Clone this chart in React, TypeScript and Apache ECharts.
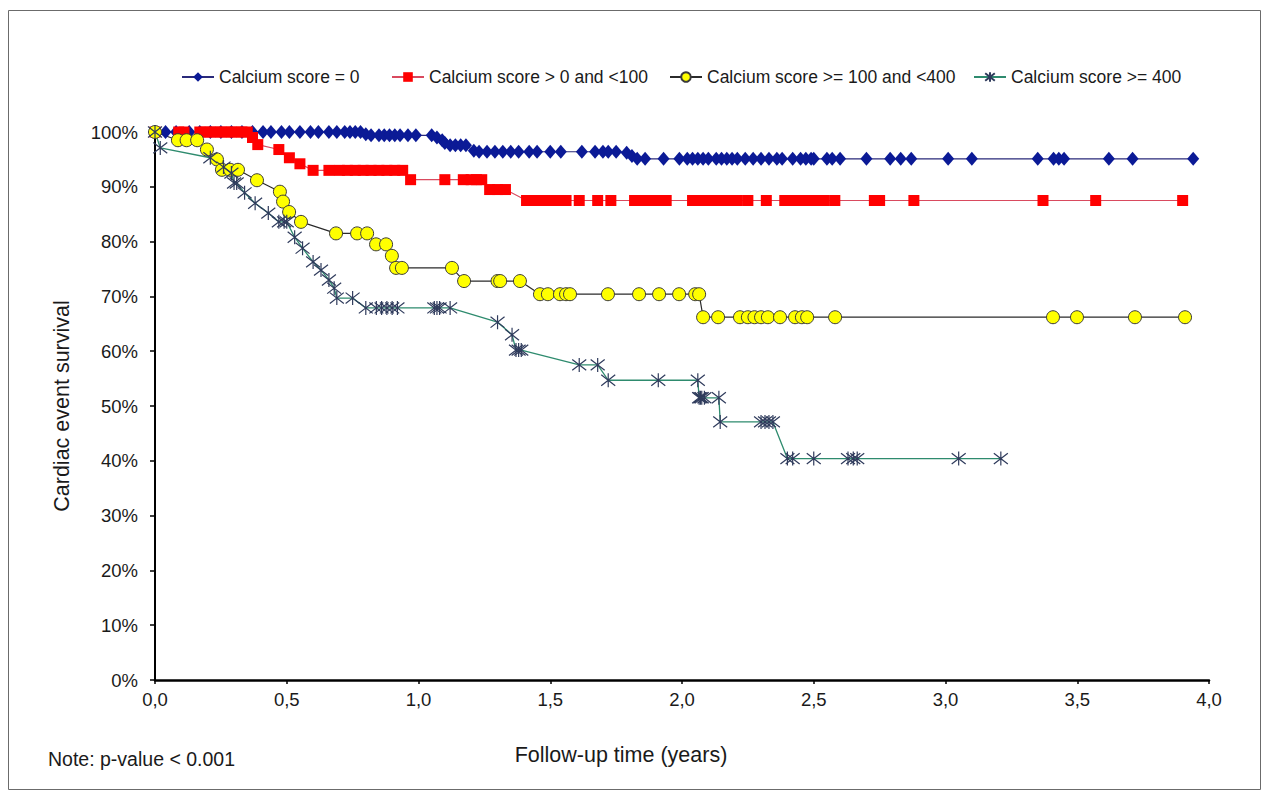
import React, { useEffect, useRef } from "react";
import * as echarts from "echarts";

const seriesNames = [
  "Calcium score = 0",
  "Calcium score > 0 and <100",
  "Calcium score >= 100 and <400",
  "Calcium score >= 400",
];

const xTicks = [0, 0.5, 1, 1.5, 2, 2.5, 3, 3.5, 4];
const yTicks = [0, 10, 20, 30, 40, 50, 60, 70, 80, 90, 100];

const scoreZero: [number, number][] = [
  [0, 100], [0.04, 100], [0.08, 100], [0.13, 100], [0.17, 100], [0.21, 100], [0.25, 100], [0.29, 100],
  [0.33, 100], [0.37, 100], [0.41, 100], [0.44, 100], [0.48, 100], [0.51, 100], [0.55, 100], [0.59, 100],
  [0.62, 100], [0.66, 100], [0.69, 100], [0.72, 100], [0.74, 100], [0.76, 100], [0.78, 100], [0.8, 99.6],
  [0.82, 99.4], [0.85, 99.4], [0.87, 99.4], [0.89, 99.4], [0.91, 99.4], [0.93, 99.4], [0.96, 99.4],
  [0.99, 99.4], [1.05, 99.4], [1.07, 99], [1.09, 98.5], [1.1, 98], [1.12, 97.6], [1.14, 97.6],
  [1.16, 97.6], [1.18, 97.6], [1.21, 96.6], [1.23, 96.4], [1.26, 96.4], [1.29, 96.4], [1.32, 96.4],
  [1.35, 96.4], [1.38, 96.4], [1.42, 96.4], [1.45, 96.4], [1.5, 96.4], [1.54, 96.4], [1.62, 96.4],
  [1.67, 96.4], [1.7, 96.4], [1.72, 96.4], [1.75, 96.4], [1.79, 96.2], [1.81, 95.6], [1.83, 95.1],
  [1.86, 95.1], [1.93, 95.1], [1.99, 95.1], [2.02, 95.1], [2.04, 95.1], [2.06, 95.1], [2.08, 95.1],
  [2.1, 95.1], [2.13, 95.1], [2.15, 95.1], [2.17, 95.1], [2.19, 95.1], [2.21, 95.1], [2.24, 95.1],
  [2.27, 95.1], [2.3, 95.1], [2.33, 95.1], [2.36, 95.1], [2.38, 95.1], [2.42, 95.1], [2.45, 95.1],
  [2.47, 95.1], [2.49, 95.1], [2.5, 95.1], [2.55, 95.1], [2.57, 95.1], [2.6, 95.1], [2.7, 95.1],
  [2.79, 95.1], [2.83, 95.1], [2.87, 95.1], [3.01, 95.1], [3.1, 95.1], [3.35, 95.1], [3.41, 95.1],
  [3.43, 95.1], [3.45, 95.1], [3.62, 95.1], [3.71, 95.1], [3.94, 95.1],
];

const scoreLow: [number, number][] = [
  [0, 100], [0.09, 100], [0.11, 100], [0.17, 100], [0.19, 100], [0.21, 100], [0.23, 100], [0.25, 100],
  [0.27, 100], [0.29, 100], [0.31, 100], [0.33, 100], [0.35, 100], [0.37, 99], [0.39, 97.7], [0.47, 96.8],
  [0.51, 95.3], [0.55, 94.2], [0.6, 93], [0.66, 93], [0.7, 93], [0.73, 93], [0.76, 93], [0.79, 93],
  [0.82, 93], [0.85, 93], [0.88, 93], [0.91, 93], [0.94, 93], [0.97, 91.3], [1.1, 91.3], [1.17, 91.3],
  [1.2, 91.3], [1.22, 91.3], [1.24, 91.3], [1.27, 89.5], [1.3, 89.5], [1.33, 89.5], [1.41, 87.5],
  [1.44, 87.5], [1.47, 87.5], [1.5, 87.5], [1.53, 87.5], [1.56, 87.5], [1.61, 87.5], [1.68, 87.5],
  [1.73, 87.5], [1.82, 87.5], [1.85, 87.5], [1.88, 87.5], [1.91, 87.5], [1.94, 87.5], [2.04, 87.5],
  [2.07, 87.5], [2.1, 87.5], [2.13, 87.5], [2.16, 87.5], [2.19, 87.5], [2.21, 87.5], [2.25, 87.5],
  [2.32, 87.5], [2.39, 87.5], [2.42, 87.5], [2.45, 87.5], [2.48, 87.5], [2.51, 87.5], [2.54, 87.5],
  [2.58, 87.5], [2.73, 87.5], [2.75, 87.5], [2.88, 87.5], [3.37, 87.5], [3.57, 87.5], [3.9, 87.5],
];

const scoreMid: [number, number][] = [
  [0, 100], [0.087, 98.5], [0.12, 98.5], [0.16, 98.5], [0.197, 96.8], [0.235, 95], [0.254, 93.1],
  [0.285, 93.1], [0.315, 93.1], [0.387, 91.2], [0.474, 89.1], [0.486, 87.3], [0.509, 85.4], [0.554, 83.6],
  [0.687, 81.5], [0.767, 81.5], [0.805, 81.5], [0.839, 79.5], [0.877, 79.5], [0.899, 77.4], [0.915, 75.2],
  [0.937, 75.2], [1.127, 75.2], [1.173, 72.8], [1.3, 72.8], [1.31, 72.8], [1.385, 72.8], [1.461, 70.4],
  [1.491, 70.4], [1.537, 70.4], [1.56, 70.4], [1.575, 70.4], [1.719, 70.4], [1.837, 70.4], [1.913, 70.4],
  [1.989, 70.4], [2.05, 70.4], [2.065, 70.4], [2.08, 66.2], [2.137, 66.2], [2.22, 66.2], [2.25, 66.2],
  [2.275, 66.2], [2.3, 66.2], [2.326, 66.2], [2.372, 66.2], [2.429, 66.2], [2.455, 66.2], [2.475, 66.2],
  [2.581, 66.2], [3.408, 66.2], [3.499, 66.2], [3.719, 66.2], [3.909, 66.2],
];

const scoreHigh: [number, number][] = [
  [0, 100], [0.02, 97.1], [0.21, 95.3], [0.26, 93.6], [0.29, 92.5], [0.3, 90.7], [0.31, 90.7],
  [0.34, 88.9], [0.38, 87], [0.43, 85.2], [0.47, 83.6], [0.49, 83.6], [0.5, 83.6], [0.53, 80.8],
  [0.56, 78.8], [0.6, 76.3], [0.63, 74.8], [0.66, 73], [0.68, 71.5], [0.69, 69.7], [0.75, 69.7],
  [0.8, 67.9], [0.84, 67.9], [0.86, 67.9], [0.88, 67.9], [0.9, 67.9], [0.92, 67.9], [1.06, 67.9],
  [1.07, 67.9], [1.08, 67.9], [1.12, 67.9], [1.3, 65.3], [1.355, 63], [1.37, 60.2], [1.38, 60.2],
  [1.39, 60.2], [1.61, 57.5], [1.68, 57.5], [1.72, 54.7], [1.91, 54.7], [2.06, 54.7], [2.065, 51.5],
  [2.07, 51.5], [2.075, 51.5], [2.085, 51.5], [2.14, 51.5], [2.145, 47.1], [2.3, 47.1], [2.315, 47.1],
  [2.33, 47.1], [2.345, 47.1], [2.4, 40.4], [2.42, 40.4], [2.5, 40.4], [2.63, 40.4], [2.65, 40.4],
  [2.665, 40.4], [3.05, 40.4], [3.21, 40.4],
];

const FONT = '"Liberation Sans", Arial, sans-serif';
const ASTERISK = "path://M-7,-7L7,7M-7,7L7,-7M0,-9L0,9";
const legendLefts = [176, 386, 664, 968];

export default function App() {
  const ref = useRef<HTMLDivElement>(null);
  useEffect(() => {
    if (!ref.current) return;
    const chart = echarts.init(ref.current, null, { renderer: "svg" });
    chart.setOption({
      animation: false,
      backgroundColor: "#ffffff",
      textStyle: { fontFamily: FONT },
      graphic: [
        {
          type: "rect",
          shape: { x: 8.5, y: 10.5, width: 1252, height: 779 },
          style: { fill: "none", stroke: "#6b6b6b", lineWidth: 1 },
          z: -1,
        },
        {
          type: "text",
          left: 48,
          top: 749,
          style: { text: "Note: p-value < 0.001", font: `19.5px ${FONT}`, fill: "#1a1a1a" },
        },
      ],
      legend: seriesNames.map((name, i) => ({
        top: 63,
        left: legendLefts[i],
        itemWidth: 32,
        itemHeight: 12,
        textStyle: { fontSize: 17.5, color: "#1a1a1a", fontFamily: FONT },
        data: [name],
      })),
      grid: { left: 155, right: 60, top: 132, bottom: 121, containLabel: false },
      xAxis: {
        type: "value",
        min: 0,
        max: 4,
        interval: 0.5,
        name: "Follow-up time (years)",
        nameLocation: "middle",
        nameGap: 64,
        nameTextStyle: { fontSize: 21.5, color: "#1a1a1a", fontFamily: FONT, padding: [0, 122, 0, 0] },
        axisLine: { lineStyle: { color: "#000", width: 2.5 } },
        axisTick: { show: true, length: 4, lineStyle: { color: "#000", width: 1.5 } },
        axisLabel: {
          fontSize: 18.5,
          color: "#1a1a1a",
          margin: 10,
          formatter: (v: number) => (xTicks.includes(v) ? v.toFixed(1).replace(".", ",") : ""),
        },
        splitLine: { show: false },
      },
      yAxis: {
        type: "value",
        min: 0,
        max: 100,
        interval: 10,
        name: "Cardiac event survival",
        nameLocation: "middle",
        nameGap: 82,
        nameTextStyle: { fontSize: 21.5, color: "#1a1a1a", fontFamily: FONT },
        axisLine: { show: true, lineStyle: { color: "#000", width: 2 } },
        axisTick: { show: true, length: 5, lineStyle: { color: "#000", width: 1.5 } },
        axisLabel: {
          fontSize: 18.5,
          color: "#1a1a1a",
          margin: 17,
          formatter: (v: number) => (yTicks.includes(v) ? `${v}%` : ""),
        },
        splitLine: { show: false },
      },
      series: [
        {
          name: seriesNames[0],
          type: "line",
          data: scoreZero,
          symbol: "diamond",
          symbolSize: [12, 14],
          lineStyle: { color: "#2a2a7a", width: 1.2 },
          itemStyle: { color: "#0b1a96" },
        },
        {
          name: seriesNames[1],
          type: "line",
          data: scoreLow,
          symbol: "rect",
          symbolSize: 11,
          lineStyle: { color: "#d94a5e", width: 1.2 },
          itemStyle: { color: "#ff0000" },
        },
        {
          name: seriesNames[2],
          type: "line",
          data: scoreMid,
          symbol: "circle",
          symbolSize: 13,
          lineStyle: { color: "#2b2b2b", width: 1.2 },
          itemStyle: { color: "#ffff00", borderColor: "#3a3a3a", borderWidth: 1 },
        },
        {
          name: seriesNames[3],
          type: "line",
          data: scoreHigh,
          symbol: ASTERISK,
          symbolSize: 14,
          lineStyle: { color: "#2e8b6e", width: 1.3 },
          itemStyle: { color: "none", borderColor: "#2f3b5c", borderWidth: 1.2 },
        },
      ],
    });
    return () => chart.dispose();
  }, []);
  return (
    <div
      ref={ref}
      style={{ position: "absolute", left: 0, top: 0, width: 1269, height: 801, background: "#fff" }}
    />
  );
}
